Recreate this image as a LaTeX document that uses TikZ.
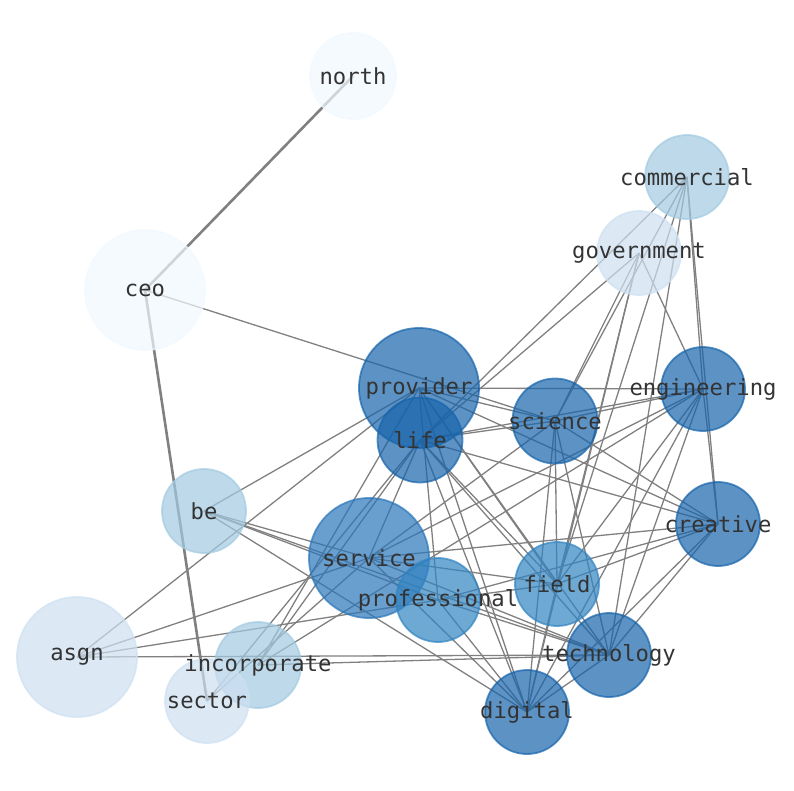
\documentclass[tikz,border=0pt]{standalone}
\usepackage{fontspec}
\setmonofont{DejaVu Sans Mono}
\begin{document}
\begin{tikzpicture}[x=1pt,y=-1pt,
  edge/.style={draw=gray, line width=1.3pt},
  thick edge/.style={draw=gray, line width=2.6pt},
  nd/.style={circle, draw, fill, line width=1.8pt, fill opacity=0.7, draw opacity=0.7, inner sep=0pt},
  lbl/.style={text=textc, font=\ttfamily\fontsize{22.2}{26}\selectfont, inner sep=0pt}]
\definecolor{textc}{HTML}{333333}
\definecolor{cA}{HTML}{1764AB}
\definecolor{cB}{HTML}{2A76B9}
\definecolor{cC}{HTML}{3184C2}
\definecolor{cD}{HTML}{A2CAE1}
\definecolor{cE}{HTML}{CDE0F1}
\definecolor{cF}{HTML}{F1F8FE}
\useasboundingbox (0,0) rectangle (794,790);
% coordinates
\coordinate (north) at (353,76);
\coordinate (ceo) at (145,290);
\coordinate (commercial) at (687,177);
\coordinate (government) at (639,253);
\coordinate (provider) at (419,388);
\coordinate (life) at (420,440);
\coordinate (science) at (555,421);
\coordinate (engineering) at (703,389);
\coordinate (creative) at (718,524);
\coordinate (be) at (204,511);
\coordinate (service) at (369,558);
\coordinate (professional) at (438,600);
\coordinate (field) at (557,584);
\coordinate (technology) at (609,655);
\coordinate (digital) at (527,712);
\coordinate (asgn) at (77,657);
\coordinate (incorporate) at (258,665);
\coordinate (sector) at (207,701);
% edges
\draw[thick edge] (north) -- (ceo);
\draw[thick edge] (ceo) -- (sector);
\foreach \a/\b in {ceo/science,
  commercial/engineering, commercial/creative, commercial/life, commercial/field, commercial/science, commercial/technology,
  government/life, government/science, government/engineering, government/field, government/digital,
  provider/engineering, provider/be, provider/asgn, provider/creative, provider/incorporate, provider/field, provider/technology, provider/digital, provider/professional, provider/science,
  life/science, life/engineering, life/creative, life/service, life/technology, life/digital, life/field, life/sector, life/incorporate,
  science/engineering, science/field, science/digital, science/technology, science/service, science/creative,
  engineering/creative, engineering/service, engineering/field, engineering/technology, engineering/digital, engineering/incorporate,
  creative/service, creative/professional, creative/field, creative/technology, creative/digital,
  be/service, be/professional, be/technology, be/digital,
  service/technology, service/digital, service/sector, service/field,
  professional/technology, professional/digital, professional/field,
  field/digital, technology/digital, technology/incorporate,
  asgn/service, asgn/professional, asgn/technology}
  \draw[edge] (\a) -- (\b);
% nodes
\node[nd, draw=cF, fill=cF, minimum size=86pt] (n-north) at (north) {};
\node[nd, draw=cF, fill=cF, minimum size=120pt] (n-ceo) at (ceo) {};
\node[nd, draw=cD, fill=cD, minimum size=84pt] (n-commercial) at (commercial) {};
\node[nd, draw=cE, fill=cE, minimum size=84pt] (n-government) at (government) {};
\node[nd, draw=cA, fill=cA, minimum size=120pt] (n-provider) at (provider) {};
\node[nd, draw=cA, fill=cA, minimum size=85pt] (n-life) at (life) {};
\node[nd, draw=cA, fill=cA, minimum size=85pt] (n-science) at (science) {};
\node[nd, draw=cA, fill=cA, minimum size=84pt] (n-engineering) at (engineering) {};
\node[nd, draw=cA, fill=cA, minimum size=84pt] (n-creative) at (creative) {};
\node[nd, draw=cD, fill=cD, minimum size=84pt] (n-be) at (be) {};
\node[nd, draw=cB, fill=cB, minimum size=120pt] (n-service) at (service) {};
\node[nd, draw=cC, fill=cC, minimum size=84pt] (n-professional) at (professional) {};
\node[nd, draw=cC, fill=cC, minimum size=84pt] (n-field) at (field) {};
\node[nd, draw=cA, fill=cA, minimum size=84pt] (n-technology) at (technology) {};
\node[nd, draw=cA, fill=cA, minimum size=84pt] (n-digital) at (digital) {};
\node[nd, draw=cE, fill=cE, minimum size=120pt] (n-asgn) at (asgn) {};
\node[nd, draw=cD, fill=cD, minimum size=86pt] (n-incorporate) at (incorporate) {};
\node[nd, draw=cE, fill=cE, minimum size=84pt] (n-sector) at (sector) {};
% labels
\foreach \n in {north,ceo,commercial,government,provider,life,science,engineering,creative,be,service,professional,field,technology,digital,asgn,incorporate,sector}
  \node[lbl] (l-\n) at (\n) {\n};
\end{tikzpicture}
\end{document}
